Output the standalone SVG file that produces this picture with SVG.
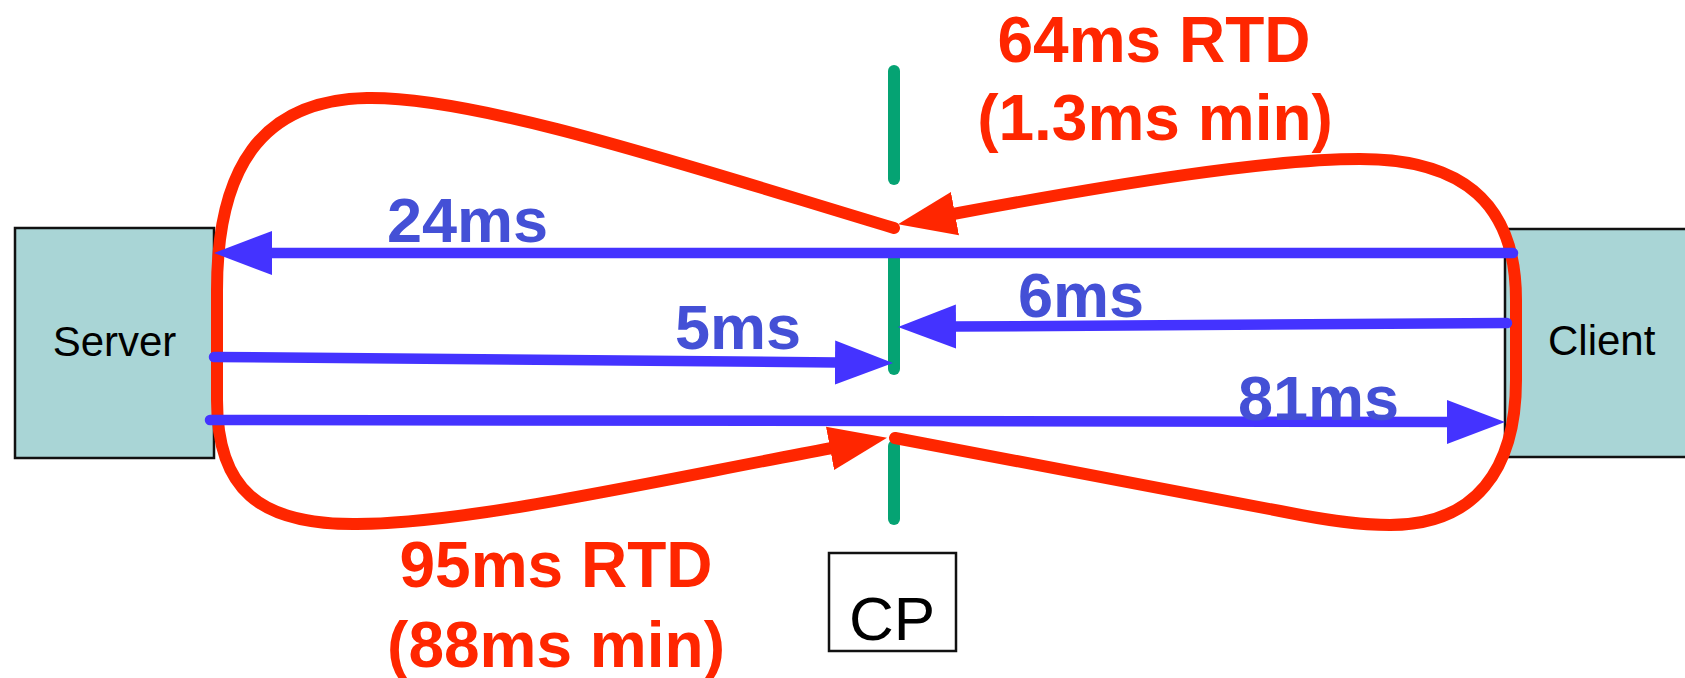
<svg xmlns="http://www.w3.org/2000/svg" width="1685" height="678" viewBox="0 0 1685 678">
  <style>
    .box { fill: #a9d5d6; stroke: #111; stroke-width: 2.5; }
    .cpbox { fill: #fff; stroke: #111; stroke-width: 2.5; }
    .name { font-family: "Liberation Sans", Arial, sans-serif; font-size: 42px; fill: #000; }
    .cptext { font-family: "Liberation Sans", Arial, sans-serif; font-size: 62px; fill: #000; }
    .probe { stroke: #05a373; stroke-width: 12; stroke-linecap: round; fill: none; }
    .flow { stroke: #4433ff; stroke-width: 10.5; stroke-linecap: round; fill: none; marker-end: url(#head-blue); }
    .loop { stroke: #ff2600; stroke-width: 12; stroke-linecap: round; stroke-linejoin: round; fill: none; marker-end: url(#head-red); }
    .delay { font-family: "Liberation Sans", Arial, sans-serif; font-weight: bold; font-size: 63px; fill: #4450d6; }
    .rtd { font-family: "Liberation Sans", Arial, sans-serif; font-weight: bold; font-size: 64px; fill: #ff2600; text-anchor: middle; }
  </style>
  <defs>
    <marker id="head-blue" markerUnits="userSpaceOnUse" markerWidth="60" markerHeight="46" viewBox="0 -23 60 46" refX="2" refY="0" orient="auto">
      <path d="M0,-22 L58,0 L0,22 z" fill="#4433ff"/>
    </marker>
    <marker id="head-red" markerUnits="userSpaceOnUse" markerWidth="60" markerHeight="46" viewBox="0 -23 60 46" refX="2" refY="0" orient="auto">
      <path d="M0,-22 L58,0 L0,22 z" fill="#ff2600"/>
    </marker>
  </defs>

  <rect width="1685" height="678" fill="#fff"/>

  <g id="server">
    <rect class="box" x="15" y="228" width="199" height="230"/>
    <text class="name" x="114.5" y="356" text-anchor="middle">Server</text>
  </g>

  <g id="client">
    <rect class="box" x="1505" y="229" width="200" height="228"/>
    <text class="name" x="1548" y="355">Client</text>
  </g>

  <g id="cp">
    <rect class="cpbox" x="829" y="553" width="127" height="98"/>
    <text class="cptext" x="892" y="640" text-anchor="middle">CP</text>
  </g>

  <g id="cp-probe">
    <line class="probe" x1="894" y1="71" x2="894" y2="179"/>
    <line class="probe" x1="894" y1="254" x2="894" y2="369"/>
    <line class="probe" x1="894" y1="446" x2="894" y2="519"/>
  </g>

  <g id="connectors">
    <!-- round trip CP -> server -> CP -->
    <path class="loop" d="M894,228 C700,170 480,96 367,98 C260,100 217,170 217,290 L217,400 C217,490 260,524 353,524 C460,525 640,484 832,448"/>
    <!-- round trip CP -> client -> CP -->
    <path class="loop" d="M895,438 L1280,511 C1330,521 1360,525 1390,525 C1475,525 1516,470 1516,380 L1516,300 C1516,205 1465,159 1360,159 C1270,159 1120,183 953,214"/>

    <path class="flow" d="M1513,253 L270,253"/>
    <path class="flow" d="M214,357 L837,362.5"/>
    <path class="flow" d="M1507,323 L954,326.6"/>
    <path class="flow" d="M210,420 L1449,421.9"/>
  </g>

  <g id="labels">
    <text class="delay" x="387" y="242">24ms</text>
    <text class="delay" x="675" y="349">5ms</text>
    <text class="delay" x="1018" y="317">6ms</text>
    <text class="delay" x="1238" y="420">81ms</text>
    <text class="rtd" x="1154" y="62">64ms RTD</text>
    <text class="rtd" x="1155" y="140">(1.3ms min)</text>
    <text class="rtd" x="556" y="587">95ms RTD</text>
    <text class="rtd" x="556" y="667">(88ms min)</text>
  </g>
</svg>
